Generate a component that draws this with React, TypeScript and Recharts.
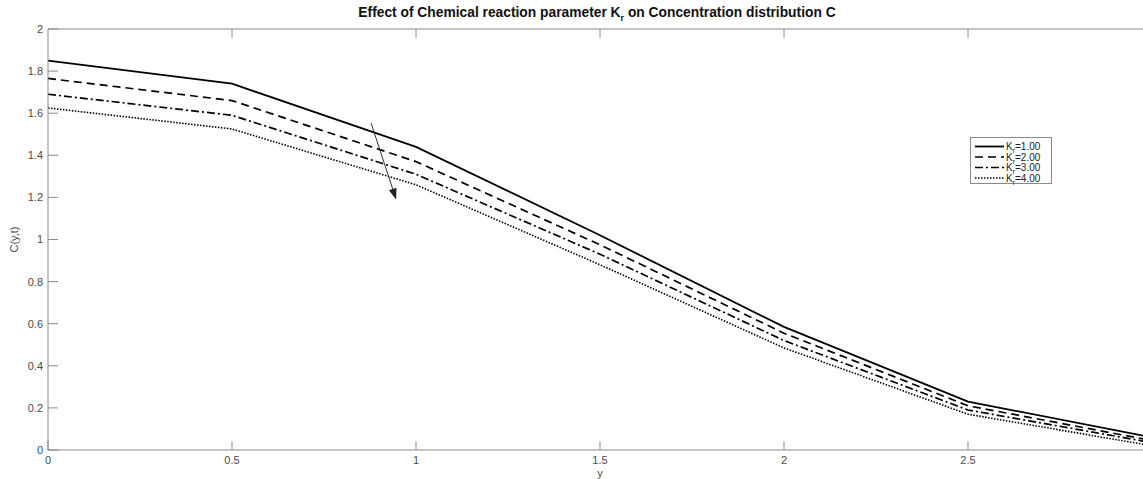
import React from "react";
import { LineChart, Line, XAxis, YAxis, ReferenceLine, Label } from "recharts";

const xValues = [0, 0.5, 1, 1.5, 2, 2.5, 3];
const kr1 = [1.85, 1.74, 1.44, 1.02, 0.585, 0.23, 0.06];
const kr2 = [1.765, 1.66, 1.37, 0.975, 0.555, 0.21, 0.045];
const kr3 = [1.69, 1.59, 1.31, 0.93, 0.52, 0.19, 0.035];
const kr4 = [1.625, 1.525, 1.26, 0.88, 0.485, 0.17, 0.02];
const krLabels = ["1.00", "2.00", "3.00", "4.00"];
const xTicks = [0, 0.5, 1, 1.5, 2, 2.5];
const yTicks = [0, 0.2, 0.4, 0.6, 0.8, 1, 1.2, 1.4, 1.6, 1.8, 2];
const arrowFrom = { x: 0.878, y: 1.553 };
const arrowTo = { x: 0.946, y: 1.19 };

const seriesStyles = [
  { key: "k1", dash: undefined, width: 1.8 },
  { key: "k2", dash: "8 5", width: 1.7 },
  { key: "k3", dash: "8 3 2 3", width: 1.7 },
  { key: "k4", dash: "1.5 1.5", width: 1.6 },
];

const data = xValues.map((x, i) => ({ x, k1: kr1[i], k2: kr2[i], k3: kr3[i], k4: kr4[i] }));

const FONT = "'Liberation Sans', Arial, sans-serif";
const AXIS = "#8a8a8a";
const TEXT = "#4a4a4a";

const fmt = (v: number) => String(+v.toFixed(1));

function Arrow(props: any) {
  const { x1, y1, x2, y2 } = props;
  const ang = Math.atan2(y2 - y1, x2 - x1);
  const len = 11;
  const half = 4;
  const bx = x2 - len * Math.cos(ang);
  const by = y2 - len * Math.sin(ang);
  const px = -Math.sin(ang) * half;
  const py = Math.cos(ang) * half;
  return (
    <g>
      <line x1={x1} y1={y1} x2={bx} y2={by} stroke="#333" strokeWidth={1} />
      <polygon points={`${x2},${y2} ${bx + px},${by + py} ${bx - px},${by - py}`} fill="#222" />
    </g>
  );
}

// MATLAB-style inward tick on the top box edge
function TopTick(props: any) {
  const { x1 } = props;
  const top = Math.min(props.y1, props.y2);
  return <line x1={x1} y1={top} x2={x1} y2={top + 9} stroke={AXIS} strokeWidth={1} />;
}

export default function App() {
  return (
    <div style={{ position: "absolute", left: 0, top: 0, width: 1143, height: 479, overflow: "hidden", background: "#fff", fontFamily: FONT }}>
      <div style={{ position: "absolute", top: 5, left: 0, width: 1194, textAlign: "center", fontWeight: "bold", fontSize: 13.8, color: "#111" }}>
        Effect of Chemical reaction parameter K<sub style={{ fontSize: 9 }}>r</sub> on Concentration distribution C
      </div>
      <LineChart width={1160} height={479} data={data} margin={{ top: 29, right: 8, left: 0, bottom: 0 }}>
        <XAxis
          dataKey="x"
          type="number"
          domain={[0, 3]}
          ticks={xTicks}
          tickFormatter={fmt}
          height={29}
          stroke={AXIS}
          tickSize={-9}
          tickMargin={15}
          tick={{ fill: TEXT, fontSize: 11, fontFamily: FONT }}
        >
          <Label value="y" position="insideBottom" offset={2} fill={TEXT} fontSize={11} fontFamily={FONT} />
        </XAxis>
        <YAxis
          type="number"
          domain={[0, 2]}
          ticks={yTicks}
          tickFormatter={fmt}
          width={48}
          stroke={AXIS}
          tickSize={-10}
          tickMargin={15}
          tick={{ fill: TEXT, fontSize: 11, fontFamily: FONT }}
        >
          <Label
            content={(p: any) => {
              const vb = p.viewBox;
              const cx = vb.x + 14;
              const cy = vb.y + vb.height / 2;
              return (
                <text x={cx} y={cy} transform={`rotate(-90 ${cx} ${cy})`} textAnchor="middle" dominantBaseline="central" fill={TEXT} fontSize={11} fontFamily={FONT}>
                  C(y,t)
                </text>
              );
            }}
          />
        </YAxis>
        <ReferenceLine y={2} stroke={AXIS} strokeWidth={1} ifOverflow="visible" />
        {xTicks.slice(1).map((t) => (
          <ReferenceLine key={`tt${t}`} x={t} ifOverflow="visible" shape={(p: any) => <TopTick {...p} />} />
        ))}
        {seriesStyles.map((s) => (
          <Line
            key={s.key}
            dataKey={s.key}
            type="linear"
            stroke="#000"
            strokeWidth={s.width}
            strokeDasharray={s.dash}
            dot={false}
            activeDot={false}
            isAnimationActive={false}
          />
        ))}
        <ReferenceLine
          segment={[arrowFrom, arrowTo]}
          ifOverflow="visible"
          shape={(p: any) => <Arrow {...p} />}
        />
      </LineChart>
      <svg style={{ position: "absolute", left: 970, top: 137 }} width={83} height={48}>
        <rect x={0.5} y={0.5} width={81} height={46} fill="#fff" stroke={AXIS} strokeWidth={1} />
        {seriesStyles.map((s, i) => {
          const cy = 9.5 + i * 10.5;
          return (
            <g key={s.key}>
              <line x1={5} y1={cy} x2={34} y2={cy} stroke="#000" strokeWidth={s.width} strokeDasharray={s.dash} />
              <text x={36} y={cy + 3.5} fontSize={10} fontFamily={FONT} fill="#222">
                K
                <tspan fontSize={7} dy={3}>r</tspan>
                <tspan dy={-3}>={krLabels[i]}</tspan>
              </text>
            </g>
          );
        })}
      </svg>
    </div>
  );
}
